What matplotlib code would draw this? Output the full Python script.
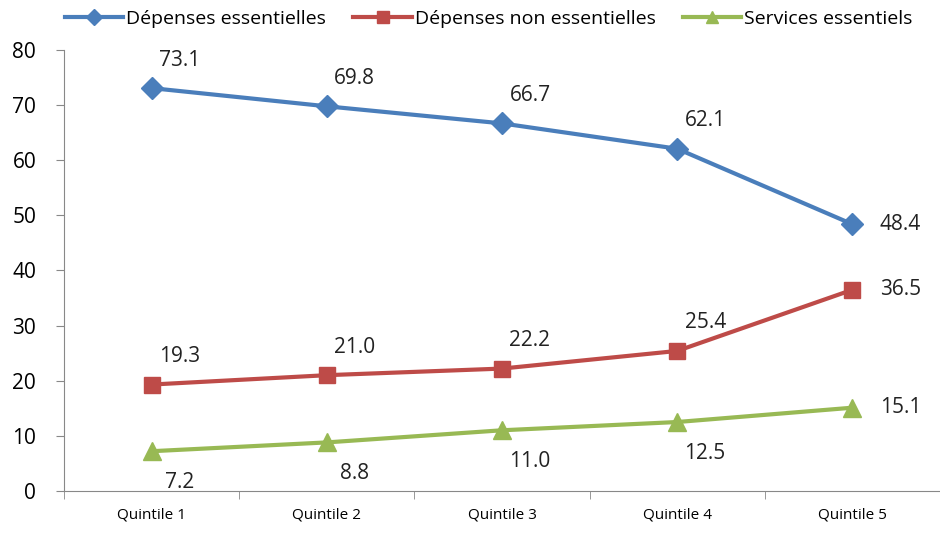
import numpy as np
import matplotlib.pyplot as plt

categories = ["Quintile 1", "Quintile 2", "Quintile 3", "Quintile 4", "Quintile 5"]
essentielles = [73.1, 69.8, 66.7, 62.1, 48.4]
non_essentielles = [19.3, 21.0, 22.2, 25.4, 36.5]
services = [7.2, 8.8, 11.0, 12.5, 15.1]

plt.rcParams['font.family'] = ['Open Sans', 'DejaVu Sans']

fig = plt.figure(figsize=(9.4, 5.33), dpi=100)
ax = fig.add_axes([0.068, 0.079, 0.932, 0.827])

x = np.arange(len(categories))
series = [
    ("Dépenses essentielles", essentielles, "#4a7ebb", "D", 11, "above"),
    ("Dépenses non essentielles", non_essentielles, "#be4b48", "s", 12, "above"),
    ("Services essentiels", services, "#98b954", "^", 13, "below"),
]
for name, vals, color, mk, ms, pos in series:
    ax.plot(x, vals, color=color, lw=3, marker=mk, markersize=ms, label=name)
    for i, v in enumerate(vals):
        if i == len(vals) - 1:
            off = (48, 0)
        elif pos == "above":
            off = (28, 28)
        else:
            off = (28, -31)
        ax.annotate(f"{v:.1f}", (x[i], v), textcoords="offset pixels", xytext=off,
                    ha="center", va="center", fontsize=15, color="#222222")

ax.set_xlim(-0.5, 4.5)
ax.set_ylim(0, 80)
ax.set_yticks(range(0, 81, 10))
ax.set_xticks(x)
ax.set_xticklabels(categories, fontsize=11)
ax.set_xticks(np.arange(-0.5, 4.6, 1), minor=True)
ax.tick_params(axis="x", which="major", length=0, pad=12)
ax.tick_params(axis="x", which="minor", length=6, color="#888888", direction="out")
ax.tick_params(axis="y", labelsize=15, length=6, color="#888888", direction="out", pad=14)
for s in ["top", "right"]:
    ax.spines[s].set_visible(False)
for s in ["left", "bottom"]:
    ax.spines[s].set_color("#888888")

fig.legend(loc="upper center", bbox_to_anchor=(0.52, 1.015), ncol=3, frameon=False,
           fontsize=14, handlelength=3.0, handletextpad=0.15, columnspacing=1.4,
           markerscale=0.7)

fig.savefig("out.png", dpi=100)
